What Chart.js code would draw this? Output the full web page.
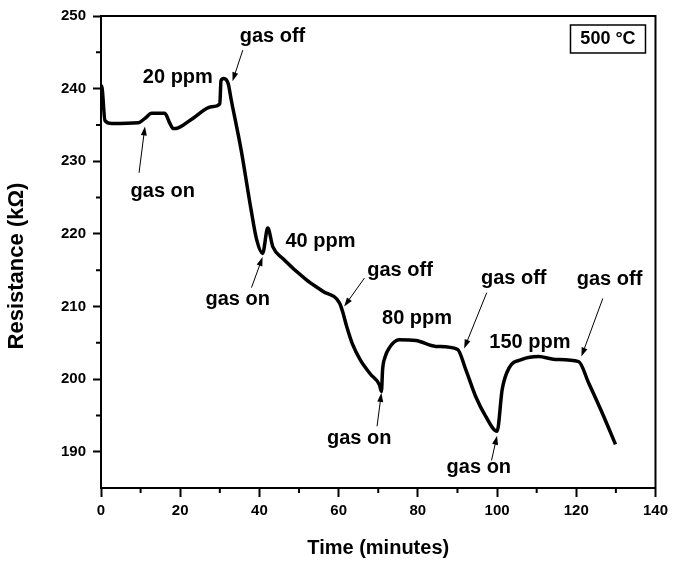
<!DOCTYPE html>
<html>
<head>
<meta charset="utf-8">
<title>Resistance vs time</title>
<script src="https://cdn.jsdelivr.net/npm/chart.js@4.4.1/dist/chart.umd.min.js"></script>
<style>
  body { margin: 0; background: #fff; }
  #grafico { display: block; }
</style>
</head>
<body>
<canvas id="grafico" width="673" height="562"></canvas>
<script>
// tiempo (minutos) y resistencia (kOhm)
let tiempo = [0, 0.3, 1.0, 2.7, 9.4, 11.1, 12.8, 16.1, 17.4, 18.2, 19.5, 23.7, 27.9, 30.0, 30.3, 31.0, 32.1, 32.9, 35.4, 37.9, 39.3, 40.8, 42.1, 43.4, 45.9, 51.8, 56.0, 60.2, 61.0, 62.0, 63.5, 65.5, 68.0, 70.3, 70.8, 71.1, 71.7, 72.8, 75.3, 79.5, 84.5, 90.0, 92.1, 94.6, 97.1, 100.0, 101.3, 103.0, 106.3, 110.5, 114.7, 120.6, 123.1, 126.5, 129.9];
let resistencia = [240.5, 240.0, 235.6, 235.2, 235.3, 235.9, 236.6, 236.6, 235.2, 234.5, 234.6, 236.1, 237.5, 237.9, 241.1, 241.4, 240.7, 238.4, 231.5, 223.3, 219.2, 217.3, 220.8, 218.2, 216.6, 213.7, 212.1, 210.5, 209.3, 207.3, 204.8, 202.6, 200.7, 199.2, 198.3, 201.3, 203.0, 204.3, 205.4, 205.3, 204.5, 204.1, 201.3, 197.6, 194.9, 192.8, 198.6, 201.5, 202.7, 203.1, 202.7, 202.4, 199.5, 195.4, 191.0];

let ticksX = [0, 20, 40, 60, 80, 100, 120, 140];
let ticksY = [190, 200, 210, 220, 230, 240, 250];
let menoresX = [10, 30, 50, 70, 90, 110, 130];
let menoresY = [195, 205, 215, 225, 235, 245];

// textos sobre la curva (en unidades de tiempo / resistencia)
let etiquetas = [
  ['20 ppm', 19.4, 241.6], ['gas off', 43.3, 247.2], ['gas on', 15.6, 225.9],
  ['gas on', 34.5, 210.9], ['40 ppm', 55.4, 218.9], ['gas off', 75.5, 215.0],
  ['80 ppm', 79.8, 208.3], ['gas on', 65.2, 191.8], ['gas off', 104.2, 213.9],
  ['150 ppm', 108.3, 205.1], ['gas on', 95.4, 187.8], ['gas off', 128.4, 213.7]
];
let flechas = [
  [35.8, 245.3, 33.2, 241.0], [9.6, 228.4, 11.1, 234.8], [38.0, 212.6, 40.8, 216.8],
  [66.5, 213.9, 61.4, 210.0], [69.7, 193.5, 70.8, 198.1], [97.4, 211.9, 91.7, 204.2],
  [98.6, 188.8, 100.0, 192.2], [126.7, 211.1, 121.3, 203.1]
];
let temperatura = '500 °C';
let tituloY = 'Resistance (k\u03A9)';

let puntos = tiempo.map((t, i) => ({ x: t, y: resistencia[i] }));

let fuente = '"Liberation Sans", Arial, sans-serif';

let extras = {
  id: 'extras',
  afterDraw(chart) {
    let ctx = chart.ctx;
    let area = chart.chartArea;
    let sx = chart.scales.x;
    let sy = chart.scales.y;
    ctx.save();
    // marco superior y derecho
    ctx.strokeStyle = '#000';
    ctx.lineWidth = 2;
    ctx.strokeRect(area.left, area.top, area.right - area.left, area.bottom - area.top);

    // marcas menores
    ctx.beginPath();
    menoresX.forEach(v => {
      let px = sx.getPixelForValue(v);
      ctx.moveTo(px, area.bottom);
      ctx.lineTo(px, area.bottom + 5);
    });
    menoresY.forEach(v => {
      let py = sy.getPixelForValue(v);
      ctx.moveTo(area.left, py);
      ctx.lineTo(area.left - 5, py);
    });
    ctx.stroke();

    // flechas
    ctx.lineWidth = 1;
    ctx.fillStyle = '#000';
    flechas.forEach(f => {
      let x1 = sx.getPixelForValue(f[0]), y1 = sy.getPixelForValue(f[1]);
      let x2 = sx.getPixelForValue(f[2]), y2 = sy.getPixelForValue(f[3]);
      let ang = Math.atan2(y2 - y1, x2 - x1);
      ctx.beginPath();
      ctx.moveTo(x1, y1);
      ctx.lineTo(x2 - 6 * Math.cos(ang), y2 - 6 * Math.sin(ang));
      ctx.stroke();
      ctx.beginPath();
      ctx.moveTo(x2, y2);
      ctx.lineTo(x2 - 9 * Math.cos(ang) + 3 * Math.sin(ang), y2 - 9 * Math.sin(ang) - 3 * Math.cos(ang));
      ctx.lineTo(x2 - 9 * Math.cos(ang) - 3 * Math.sin(ang), y2 - 9 * Math.sin(ang) + 3 * Math.cos(ang));
      ctx.closePath();
      ctx.fill();
    });

    // textos
    ctx.font = 'bold 20px ' + fuente;
    ctx.textAlign = 'center';
    ctx.textBaseline = 'middle';
    etiquetas.forEach(e => {
      ctx.fillText(e[0], sx.getPixelForValue(e[1]), sy.getPixelForValue(e[2]));
    });

    // recuadro de temperatura
    let bx = area.right - 85, by = area.top + 9;
    ctx.lineWidth = 1.5;
    ctx.strokeRect(bx, by, 75, 28);
    ctx.font = 'bold 18px ' + fuente;
    ctx.fillText(temperatura, bx + 37.5, by + 14.5);

    // titulo del eje y
    ctx.translate(17, (area.top + area.bottom) / 2 + 14);
    ctx.rotate(-Math.PI / 2);
    ctx.font = 'bold 22px ' + fuente;
    ctx.fillText(tituloY, 0, 0);
    ctx.restore();
  }
};

let ctx = document.getElementById('grafico').getContext('2d');
let chart = new Chart(ctx, {
  type: 'line',
  data: {
    datasets: [{
      data: puntos,
      borderColor: '#000',
      borderWidth: 3.5,
      pointRadius: 0,
      fill: false,
      cubicInterpolationMode: 'monotone'
    }]
  },
  options: {
    responsive: false,
    animation: false,
    events: [],
    layout: { padding: { top: 15, right: 16, left: 0, bottom: 0 } },
    plugins: {
      legend: { display: false },
      tooltip: { enabled: false }
    },
    scales: {
      x: {
        type: 'linear',
        min: 0,
        max: 140,
        afterBuildTicks: s => { s.ticks = ticksX.map(v => ({ value: v })); },
        afterFit: s => { s.height = 74; },
        border: { display: true, color: '#000', width: 2 },
        grid: { drawOnChartArea: false, drawTicks: true, tickLength: 9, tickColor: '#000', tickWidth: 2 },
        ticks: { color: '#000', padding: 5, maxRotation: 0, font: { family: fuente, size: 15, weight: 'bold' } },
        title: { display: true, text: 'Time (minutes)', color: '#000', padding: { top: 0, bottom: 2 }, font: { family: fuente, size: 20, weight: 'bold' } }
      },
      y: {
        min: 185,
        max: 250,
        afterBuildTicks: s => { s.ticks = ticksY.map(v => ({ value: v })); },
        afterFit: s => { s.width = 101; },
        border: { display: true, color: '#000', width: 2 },
        grid: { drawOnChartArea: false, drawTicks: true, tickLength: 8, tickColor: '#000', tickWidth: 2 },
        ticks: { color: '#000', padding: 7, font: { family: fuente, size: 15, weight: 'bold' } }
      }
    }
  },
  plugins: [extras]
});
</script>
</body>
</html>
